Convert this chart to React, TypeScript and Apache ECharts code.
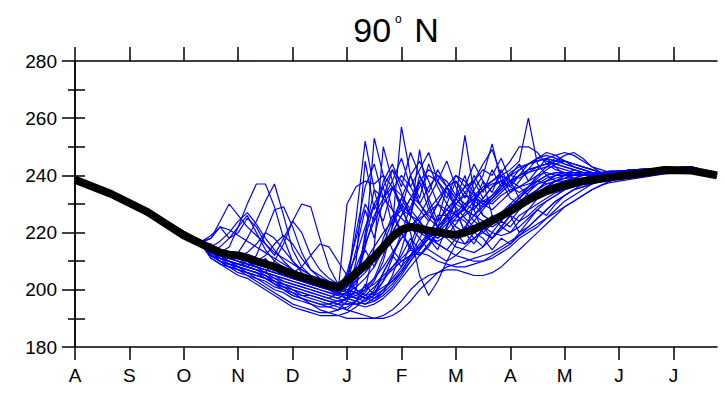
import React, { useEffect, useRef } from 'react';
import * as echarts from 'echarts';

// ---------- axis labels / ticks ----------
const monthLabels = ['A', 'S', 'O', 'N', 'D', 'J', 'F', 'M', 'A', 'M', 'J', 'J'];
const monthTicks = [0, 30, 60, 90, 120, 150, 180, 210, 240, 270, 300, 330];
const rightTicks = [190, 200, 210, 220, 230, 240, 250, 260, 270];
const titleMain = '90';
const titleSup = 'o';
const titleTail = ' N';

// ---------- x positions (days from 1 Aug) ----------
const days = [0, 20, 40, 60, 70,
  75, 80, 85, 90, 95, 100, 105, 110, 115, 120, 125, 130, 135, 140, 145, 150,
  155, 160, 165, 170, 175, 180, 185, 190, 195, 200, 205, 210, 215, 220, 225, 230, 235, 240, 245, 250,
  255, 260, 265, 270, 275, 280, 285, 290, 295, 300,
  310, 325, 340, 354];

// ---------- mean (thick black) ----------
const meanTemp = [238.5, 233.5, 227.2, 219, 216,
  214.5, 213, 212.3, 212, 211.2, 210, 209, 208, 206.8, 205.5, 204.5, 203.5, 202.5, 201.5, 200.8, 203,
  206, 208.5, 211.5, 215, 218.5, 221, 222, 221.5, 220.7, 220.2, 219.6, 219.2, 220, 221.2, 222.6, 224.2, 225.8, 227.5, 229.5, 231.5,
  233, 234.5, 235.6, 236.5, 237.3, 237.9, 238.4, 238.8, 239.3, 239.7,
  240.5, 241.9, 241.7, 240];

// ---------- ensemble members (thin blue) ----------
const m01 = [238.8, 233.9, 227.9, 220.5, 217, 218, 224, 230, 226, 222, 219, 216, 213, 211, 209, 207, 205, 203, 201, 199, 197, 196, 195, 197, 200, 204, 208, 212, 215, 219, 222, 225, 224, 226, 229, 231, 230, 233, 235, 236, 237, 238, 237, 238, 239, 239, 240, 240, 241, 241, 241, 241.5, 242, 242.5, 240.3];
const m02 = [238.3, 233.2, 227.3, 219.7, 216, 214, 213, 215, 222, 230, 237, 237, 229, 218, 210, 206, 204, 202, 200, 199, 198, 205, 215, 226, 232, 236, 233, 228, 224, 220, 218, 221, 225, 229, 232, 230, 228, 231, 234, 236, 238, 240, 241, 240, 240, 239, 240, 240.5, 241, 241, 241.5, 242, 242.5, 242.8, 240.5];
const m03 = [238.6, 233.6, 227.6, 220.2, 216.7, 214, 212, 211, 213, 218, 224, 231, 237, 226, 214, 208, 205, 203, 201, 200, 202, 200, 198, 199, 201, 203, 206, 210, 214, 218, 217, 219, 223, 227, 231, 235, 237, 238, 240, 239, 241, 243, 244, 245, 245, 244, 243, 242, 241, 241, 241, 241.5, 242, 242.5, 240];
const m04 = [238.4, 233.4, 227.4, 219.8, 216, 213, 211, 210, 209, 208, 212, 220, 228, 229, 222, 213, 207, 204, 202, 201, 200, 199, 197, 196, 198, 201, 205, 210, 214, 218, 222, 226, 230, 233, 231, 229, 231, 234, 237, 240, 242, 243, 244, 244, 243, 242, 241, 240, 240, 240, 240.5, 241, 241.5, 242, 239.8];
const m05 = [238.5, 233.5, 227.5, 220, 216.3, 213, 211, 210, 209, 208, 207, 206, 210, 216, 224, 230, 229, 218, 208, 202, 199, 197, 196, 198, 203, 211, 220, 229, 236, 240, 238, 234, 229, 225, 222, 220, 218, 221, 224, 228, 231, 234, 236, 238, 239, 240, 240, 240, 240.5, 241, 241, 241.5, 242, 242.5, 240.2];
const m06 = [238.7, 233.7, 227.7, 220.3, 216.8, 215, 217, 220, 224, 227, 223, 218, 214, 210, 207, 205, 203, 201, 200, 199, 201, 225, 252, 235, 222, 214, 210, 212, 216, 220, 224, 228, 232, 236, 233, 230, 232, 235, 238, 240, 241, 242, 243, 243, 242, 241, 240, 240, 240, 240, 240.5, 241, 242, 242.5, 240];
const m07 = [238.2, 233, 227, 219.5, 215.8, 213, 211, 209, 208, 207, 206, 205, 203, 202, 201, 200, 199, 198, 197, 199, 230, 236, 238, 237, 240, 236, 230, 226, 224, 228, 232, 236, 238, 234, 230, 226, 224, 227, 230, 233, 236, 238, 240, 241, 241, 240, 240, 240, 240.5, 241, 241.5, 242, 242.5, 243, 240.5];
const m08 = [238.5, 233.6, 227.6, 220, 216.5, 213, 212, 211, 210, 209, 208, 207, 206, 205, 204, 203, 202, 201, 200, 199, 200, 202, 215, 253, 240, 228, 220, 215, 212, 215, 220, 225, 230, 228, 226, 229, 232, 235, 238, 236, 233, 235, 238, 240, 241, 241, 240, 240, 240.5, 240.5, 241, 241.5, 242, 242.5, 240];
const m09 = [238.4, 233.3, 227.3, 219.8, 215.8, 212, 210, 209, 208, 207, 206, 204, 202, 200, 198, 197, 196, 195, 194, 193, 194, 196, 200, 215, 250, 238, 228, 222, 218, 214, 212, 210, 212, 215, 218, 221, 224, 227, 229, 231, 233, 235, 237, 238, 238, 239, 239, 240, 240, 240.5, 241, 241.5, 242, 242.5, 240];
const m10 = [238.6, 233.5, 227.5, 220.1, 216.4, 214, 213, 212, 211, 210, 209, 208, 207, 205, 204, 203, 202, 201, 200, 199, 198, 197, 199, 203, 210, 222, 257, 240, 230, 225, 222, 219, 217, 216, 218, 220, 223, 226, 229, 232, 235, 237, 238, 239, 240, 240, 240.5, 241, 241, 241, 241, 241.5, 242, 242.5, 240.3];
const m11 = [238.3, 233.2, 227.2, 219.6, 216, 214, 212, 210, 209, 208, 207, 206, 205, 204, 203, 202, 201, 200, 199, 198, 197, 196, 195, 196, 199, 205, 214, 225, 249, 230, 222, 218, 215, 214, 213, 215, 218, 222, 226, 230, 234, 237, 239, 240, 240, 240, 240, 240, 240.5, 241, 241, 241.5, 242, 242.5, 240];
const m12 = [238.5, 233.4, 227.4, 219.9, 216.2, 212, 211, 210, 208, 207, 206, 204, 203, 202, 201, 200, 199, 198, 197, 196, 195, 195, 196, 200, 206, 212, 218, 222, 226, 232, 238, 245, 236, 228, 224, 222, 220, 219, 220, 222, 225, 228, 231, 233, 235, 237, 238, 239, 239.5, 240, 240.5, 241, 242, 242.5, 240];
const m13 = [238.7, 233.7, 227.6, 220.2, 216.6, 215, 214, 213, 212, 211, 210, 209, 208, 207, 206, 205, 204, 203, 202, 201, 203, 206, 210, 215, 220, 224, 228, 226, 222, 220, 218, 222, 232, 254, 234, 226, 224, 226, 229, 232, 235, 238, 240, 241, 241, 240, 240, 240, 240.5, 241, 241, 241.5, 242, 242.5, 240.4];
const m14 = [238.4, 233.5, 227.5, 220, 216.3, 213, 212, 211, 210, 209, 208, 207, 206, 205, 204, 203, 202, 201, 200, 199, 198, 199, 201, 204, 208, 213, 218, 222, 225, 227, 230, 228, 226, 228, 235, 240, 251, 238, 232, 230, 232, 235, 238, 240, 241, 241, 240, 240, 240, 240.5, 241, 241.5, 242, 242.5, 240];
const m15 = [238.6, 233.6, 227.6, 220.2, 216.5, 214, 213, 212, 211, 210, 209, 208, 207, 206, 205, 204, 203, 202, 201, 200, 202, 208, 216, 224, 230, 235, 240, 236, 230, 226, 224, 228, 232, 236, 238, 242, 240, 246, 238, 232, 230, 233, 236, 238, 240, 241, 241, 241, 241, 241.5, 241.5, 242, 242.5, 243, 240.5];
const m16 = [238.5, 233.5, 227.5, 220, 216.4, 213, 212, 211, 210, 209, 208, 207, 206, 205, 204, 203, 202, 201, 200, 200, 199, 198, 197, 198, 200, 203, 207, 211, 215, 218, 221, 224, 227, 230, 233, 236, 238, 240, 242, 245, 260, 244, 240, 238, 239, 240, 241, 241, 241, 241, 241, 241.5, 242, 242.5, 240.2];
const m17 = [238.4, 233.3, 227.3, 219.8, 216, 212, 211, 210, 209, 208, 207, 206, 204, 203, 202, 201, 200, 199, 198, 197, 196, 195, 194, 195, 197, 200, 204, 208, 212, 216, 220, 223, 226, 229, 232, 235, 238, 241, 245, 250, 250, 248, 244, 242, 241, 240, 240, 240, 240, 240.5, 241, 241.5, 242, 242.5, 240];
const m18 = [238.2, 233, 227, 219.4, 215.6, 212, 210, 208, 207, 206, 205, 204, 203, 201, 199, 197, 195, 193, 192, 191, 190, 190, 190, 190, 191, 193, 196, 200, 203, 205, 206, 207, 207, 206, 205, 205, 206, 208, 211, 214, 217, 220, 223, 226, 229, 231, 233, 235, 236.5, 237.5, 238, 239, 240.5, 241.5, 239.5];
const m19 = [238.3, 233.2, 227.2, 219.6, 215.9, 212, 210, 209, 208, 207, 206, 205, 204, 202, 200, 198, 197, 196, 195, 194, 193, 192, 191, 190, 190, 191, 193, 196, 200, 203, 206, 208, 209, 210, 211, 212, 213, 215, 217, 219, 221, 223, 225, 227, 229, 231, 233, 235, 236.5, 238, 239, 239.5, 241, 242, 239.8];
const m20 = [238.5, 233.4, 227.4, 219.9, 216.2, 214, 213, 212, 211, 210, 210, 212, 216, 219, 216, 211, 207, 205, 203, 202, 200, 199, 200, 204, 212, 222, 230, 220, 205, 198, 203, 210, 216, 222, 226, 230, 233, 236, 240, 242, 244, 245, 246, 245, 244, 243, 242, 241, 240.5, 240.5, 240.5, 241, 241.5, 242, 240];
const m21 = [238.6, 233.6, 227.6, 220.2, 216.6, 214, 213, 212, 211, 210, 209, 208, 207, 206, 206, 208, 212, 216, 215, 210, 205, 200, 198, 197, 199, 202, 206, 212, 218, 224, 230, 236, 240, 238, 234, 231, 233, 237, 241, 243, 244, 245, 246, 247, 248, 247, 245, 243, 242, 241, 241, 241.5, 242, 242.5, 240.3];
const m22 = [238.5, 233.6, 227.7, 220.4, 217, 219, 222, 221, 219, 217, 215, 213, 211, 209, 207, 205, 204, 203, 202, 201, 202, 204, 207, 211, 215, 220, 226, 232, 238, 242, 240, 236, 232, 228, 226, 224, 222, 224, 228, 232, 236, 240, 243, 245, 247, 248, 246, 243, 241, 240, 240, 241, 241.5, 242, 239.8];
const m23 = [238.3, 233.3, 227.2, 219.6, 215.7, 211, 209, 208, 207, 206, 205, 204, 202, 200, 199, 198, 198, 197, 196, 196, 197, 200, 220, 235, 232, 228, 225, 222, 220, 218, 216, 214, 212, 211, 210, 210, 211, 213, 215, 218, 220, 222, 225, 228, 231, 233, 235, 237, 238, 239, 239.5, 240, 241, 242, 239.6];
const m24 = [238.7, 233.8, 227.8, 220.4, 216.8, 215, 213, 212, 212, 213, 216, 220, 218, 214, 210, 207, 205, 204, 203, 202, 205, 212, 222, 230, 236, 242, 238, 233, 230, 236, 240, 238, 233, 230, 228, 232, 236, 238, 236, 234, 236, 239, 242, 244, 245, 244, 243, 242, 241, 241, 241, 241.5, 242, 242.8, 240.4];
const m25 = [238.4, 233.4, 227.4, 219.8, 216.1, 213, 212, 210, 209, 208, 207, 205, 203, 201, 200, 199, 198, 197, 196, 195, 195, 196, 198, 201, 204, 207, 210, 212, 213, 212, 210, 209, 208, 208, 209, 210, 212, 214, 216, 219, 222, 225, 228, 231, 233, 235, 236, 237, 238, 239, 239.5, 240.5, 241.5, 242.5, 240];
const m26 = [238.6, 233.5, 227.5, 220.1, 216.5, 218, 222, 218, 220, 225, 222, 216, 212, 218, 224, 220, 212, 207, 204, 202, 201, 203, 206, 210, 216, 224, 232, 240, 245, 238, 230, 226, 222, 220, 224, 228, 232, 236, 238, 240, 242, 243, 244, 246, 245, 244, 243, 242, 241, 241, 241.5, 242, 242.5, 243, 240.5];
const m27 = [238.4, 233.3, 227.3, 219.7, 215.9, 212, 210, 208, 206, 205, 203, 201, 199, 197, 195, 194, 193, 192, 192, 193, 196, 204, 218, 230, 224, 236, 228, 240, 232, 244, 236, 230, 238, 232, 240, 234, 242, 236, 240, 244, 238, 242, 246, 243, 240, 242, 241, 240, 240.5, 241, 241.5, 242, 242.5, 243, 240.5];
const m28 = [238.6, 233.6, 227.6, 220.1, 216.4, 213, 211, 210, 208, 206, 205, 204, 202, 201, 200, 199, 198, 197, 196, 195, 197, 210, 245, 228, 236, 222, 232, 226, 238, 228, 222, 230, 226, 224, 220, 222, 218, 222, 220, 224, 226, 229, 231, 233, 235, 236, 237, 238, 239, 240, 240.5, 241.5, 242, 242.5, 240.2];
const m29 = [238.3, 233.2, 227.1, 219.5, 215.6, 211, 209, 207, 205, 204, 202, 200, 198, 196, 194, 193, 192, 191, 191, 191, 192, 194, 197, 199, 203, 208, 212, 218, 214, 220, 216, 214, 218, 222, 218, 215, 220, 224, 222, 226, 228, 230, 232, 234, 235, 236, 237, 238, 238.5, 239, 239.5, 240.5, 241.5, 242.5, 240];
const m30 = [238.5, 233.5, 227.5, 220, 216.3, 214, 212, 211, 213, 210, 208, 211, 207, 205, 207, 204, 203, 201, 200, 198, 202, 214, 228, 218, 232, 242, 234, 226, 240, 232, 224, 236, 228, 220, 230, 238, 226, 222, 226, 220, 224, 228, 226, 230, 233, 235, 237, 238, 239, 239.5, 240, 241, 242, 242.5, 240.3];
const m31 = [238.6, 233.6, 227.6, 220.2, 216.6, 215, 213, 212, 211, 209, 208, 206, 205, 204, 203, 202, 201, 200, 199, 198, 199, 201, 204, 208, 214, 220, 226, 232, 228, 224, 230, 236, 232, 228, 238, 244, 249, 240, 234, 238, 242, 246, 248, 247, 245, 243, 242, 241, 240.5, 240.5, 241, 241.5, 242, 242.5, 240];
const m32 = [238.4, 233.4, 227.3, 219.8, 216, 212, 210, 209, 207, 205, 204, 202, 200, 199, 197, 196, 195, 194, 194, 195, 193, 196, 202, 198, 206, 212, 208, 216, 224, 218, 214, 222, 228, 220, 216, 222, 226, 224, 230, 228, 232, 234, 236, 237, 238, 239, 239, 239.5, 240, 240.5, 241, 241.5, 242, 242.5, 240];
const m33 = [238.5, 233.5, 227.5, 220.1, 216.5, 214, 215, 218, 222, 226, 220, 214, 210, 208, 206, 205, 204, 203, 202, 200, 206, 218, 230, 224, 238, 244, 236, 248, 240, 234, 242, 236, 230, 234, 238, 232, 236, 240, 238, 242, 244, 246, 247, 246, 244, 243, 242, 241, 241, 241, 241, 241.5, 242, 242.5, 240.3];
const m34 = [238.3, 233.3, 227.3, 219.7, 215.9, 212, 210, 208, 207, 206, 204, 203, 201, 200, 198, 197, 196, 195, 195, 196, 197, 198, 200, 202, 205, 208, 211, 214, 212, 216, 220, 226, 232, 240, 228, 220, 218, 222, 226, 224, 228, 232, 234, 236, 237, 238, 238.5, 239, 239.5, 240, 240.5, 241, 242, 242.5, 240];
const m35 = [238.6, 233.7, 227.7, 220.3, 216.7, 216, 214, 213, 212, 211, 210, 209, 208, 207, 205, 204, 203, 202, 201, 200, 203, 220, 236, 244, 232, 238, 246, 236, 242, 248, 238, 232, 240, 236, 244, 238, 234, 242, 236, 240, 244, 246, 245, 244, 243, 242, 241, 241, 241, 241.5, 241.5, 242, 242.5, 243, 240.5];
const m36 = [238.5, 233.4, 227.4, 219.9, 216.2, 213, 212, 211, 210, 208, 207, 206, 205, 203, 202, 201, 200, 199, 198, 197, 199, 206, 214, 208, 218, 226, 220, 214, 222, 218, 226, 226, 220, 216, 220, 218, 214, 218, 216, 220, 222, 225, 228, 231, 233, 235, 236, 237, 238, 239, 240, 241, 242, 242.5, 240.2];

const members = [m01, m02, m03, m04, m05, m06, m07, m08, m09, m10, m11, m12, m13,
  m14, m15, m16, m17, m18, m19, m20, m21, m22, m23, m24, m25, m26,
  m27, m28, m29, m30, m31, m32, m33, m34, m35, m36];

const FONT = 'Liberation Sans, Arial, Helvetica, sans-serif';
const AX = { color: '#000', width: 1.5 };

export default function App() {
  const ref = useRef<HTMLDivElement>(null);

  useEffect(() => {
    if (!ref.current) return;
    const chart = echarts.init(ref.current, null, { renderer: 'svg' });
    const pairs = (vals: number[]) => vals.map((v, i) => [days[i], v]);

    const memberSeries = members.map((m, k) => ({
      type: 'line',
      name: 'member' + (k + 1),
      data: pairs(m),
      xAxisIndex: 0,
      yAxisIndex: 0,
      showSymbol: false,
      symbol: 'none',
      silent: true,
      z: 2,
      lineStyle: { color: '#0000ff', width: 1.2 },
    }));

    chart.setOption({
      animation: false,
      backgroundColor: '#fff',
      grid: { left: 75, right: 10, top: 61, bottom: 46, containLabel: false },
      graphic: [
        {
          type: 'text',
          x: 396,
          y: 30,
          style: {
            text: `{a|${titleMain}}{b|${titleSup}}{a|${titleTail}}`,
            align: 'center',
            verticalAlign: 'middle',
            rich: {
              a: { fontSize: 34, fontFamily: FONT, fill: '#000', lineHeight: 34 },
              b: { fontSize: 12, fontFamily: FONT, fill: '#000', verticalAlign: 'top', lineHeight: 12, padding: [0, 3, 0, 4] },
            },
          },
        },
      ],
      xAxis: [
        {
          type: 'value',
          position: 'bottom',
          min: 0,
          max: 354,
          interval: 30,
          splitLine: { show: false },
          axisLine: { show: true, lineStyle: AX },
          axisTick: { show: true, inside: false, length: 13, lineStyle: AX, customValues: monthTicks },
          axisLabel: {
            show: true,
            customValues: monthTicks,
            formatter: (v: number) => monthLabels[Math.round(v / 30)] ?? '',
            fontSize: 19,
            fontFamily: FONT,
            color: '#000',
            margin: 19,
          },
        },
        {
          type: 'value',
          position: 'top',
          min: 0,
          max: 354,
          interval: 30,
          splitLine: { show: false },
          axisLine: { show: true, lineStyle: AX },
          axisTick: { show: true, inside: false, length: 14, lineStyle: AX, customValues: monthTicks },
          axisLabel: { show: false },
        },
      ],
      yAxis: [
        {
          type: 'value',
          position: 'left',
          min: 180,
          max: 280,
          interval: 20,
          splitLine: { show: false },
          axisLine: { show: true, lineStyle: AX },
          axisTick: { show: true, inside: false, length: 13, lineStyle: AX },
          minorTick: { show: true, splitNumber: 2, length: 7, lineStyle: AX },
          minorSplitLine: { show: false },
          axisLabel: { fontSize: 19, fontFamily: FONT, color: '#000', margin: 18 },
        },
        {
          type: 'value',
          position: 'right',
          min: 180,
          max: 280,
          interval: 10,
          splitLine: { show: false },
          axisLine: { show: true, lineStyle: AX },
          axisTick: { show: true, inside: false, length: 10, lineStyle: AX, customValues: rightTicks },
          axisLabel: { show: false },
        },
      ],
      series: [
        ...memberSeries,
        {
          type: 'line',
          name: 'mean',
          data: pairs(meanTemp),
          xAxisIndex: 0,
          yAxisIndex: 0,
          showSymbol: false,
          symbol: 'none',
          silent: true,
          z: 3,
          lineStyle: { color: '#000', width: 8, join: 'round' },
        },
      ],
    });

    return () => chart.dispose();
  }, []);

  return <div ref={ref} style={{ position: 'fixed', left: 0, top: 0, width: 727, height: 393 }} />;
}
